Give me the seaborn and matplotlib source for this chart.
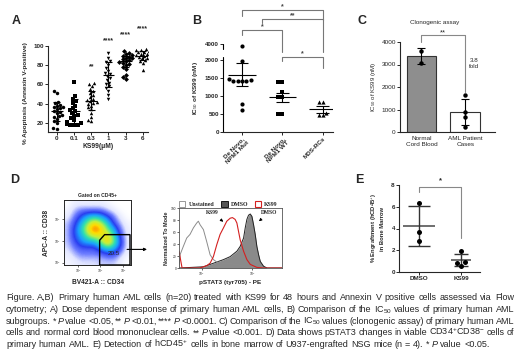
"""KS99 multi-panel figure: apoptosis, IC50, clonogenic assay, pSTAT3 flow, engraftment
"""

import numpy as np
import pandas as pd
import matplotlib
matplotlib.use('Agg')
import matplotlib.pyplot as plt
from matplotlib.colors import LinearSegmentedColormap
from matplotlib.patches import Patch, Polygon
import seaborn as sns

# ---- A: % apoptosis (Annexin V+) per KS99 dose
doses = ['0', '0.1', '0.3', '1', '3', '6']
apop_0 = [53, 51, 42, 41, 39, 38, 37, 36, 35, 34, 32, 31, 30, 28, 27, 26, 24, 22, 20, 15, 14]
apop_01 = [63, 48, 45, 43, 41, 38, 35, 33, 32, 30, 28, 27, 25, 23, 21, 20, 19, 18, 18, 18]
apop_03 = [61, 60, 58, 55, 53, 51, 49, 47, 45, 44, 43, 42, 41, 40, 38, 36, 34, 30, 26, 23, 22]
apop_1 = [93, 88, 84, 83, 80, 77, 74, 72, 71, 69, 67, 65, 62, 60, 58, 56, 53, 49, 45]
apop_3 = [95, 93, 92, 91, 90, 89, 88, 87, 86, 85, 84, 83, 82, 81, 80, 78, 76, 70, 68, 66]
apop_6 = [97, 96, 96, 95, 94, 94, 93, 92, 92, 91, 90, 90, 89, 88, 87, 85, 84, 82, 75]
a_mean = [32, 32, 43, 70, 84, 90]
a_sd = [10, 13, 10, 13, 6, 5]
a_stars = ['', '', '**', '****', '****', '****']
a_star_y = [0, 0, 78, 105, 112, 118]

# ---- B: IC50 of KS99 (nM) per subgroup
b_groups = ['De Novo,\nNPM1 Mut', 'De Novo,\nNPM1 WT', 'MDS-RCs']
b_mut = [3800, 1980, 1480, 1430, 1420, 1420, 1420, 1440, 770, 610]
b_wt = [1380, 1380, 1120, 980, 980, 500, 500]
b_mds = [830, 830, 530, 460, 460]
b_mean = [1590, 970, 630]
b_sem = [320, 125, 90]

# ---- C: clonogenic IC50
c_groups = ['Normal\nCord Blood', 'AML Patient\nCases']
c_bar = [3380, 875]
c_sd = [350, 570]
c_normal = [3615, 3080]
c_aml = [1630, 900, 680, 240]

# ---- D: flow density (CD34 vs CD38, rows top -> bottom) and pSTAT3 histograms
dens = [
    [0, 0.5, 0.5, 0.5, 0.5, 0.5, 0.3, 0, 0, 0],
    [0.3, 1, 1.5, 1.5, 1.5, 1.5, 1, 0.5, 0, 0],
    [0.5, 1.5, 2.5, 3.5, 4, 3.5, 2.5, 1.5, 0.5, 0],
    [1, 2, 3.5, 5, 6.5, 5.5, 4, 2, 1, 0.3],
    [1, 2.5, 4, 6, 8, 7, 5, 3.5, 1.5, 0.5],
    [1, 2.5, 3.5, 5, 6, 6, 6.5, 4.5, 2, 0.5],
    [1, 2, 3, 3.5, 3.5, 5, 7, 5, 2.5, 0.5],
    [0.8, 1.5, 2, 2, 2, 3, 4, 3.5, 2, 0.5],
    [0.5, 1, 1.5, 1.5, 1.5, 1.5, 2, 2, 1, 0.3],
    [0.3, 0.5, 0.8, 0.8, 0.8, 1, 1, 1, 0.5, 0],
]
gate_pct = '20.5'
unst_x = [0, 0.01, 0.042, 0.075, 0.107, 0.14, 0.172, 0.188, 0.205, 0.237, 0.269, 0.302,
          0.334, 0.367, 0.432, 0.497, 0.562, 0.61, 0.643, 0.69]
unst_y = [0, 22, 36, 50, 56, 67, 75, 78, 72, 64, 44, 22, 14, 10, 8, 7, 6, 4, 1, 0]
ks99_x = [0, 0.03, 0.2, 0.237, 0.27, 0.302, 0.334, 0.367, 0.399, 0.432, 0.464, 0.497,
          0.519, 0.545, 0.562, 0.578, 0.594, 0.627, 0.659, 0.692, 0.756, 0.82, 1.0]
ks99_y = [28, 0, 0, 2, 4, 8, 19, 39, 56, 67, 78, 83, 84, 81, 75, 61, 47, 28, 14, 6, 1, 0, 0]
dmso_x = [0, 0.237, 0.302, 0.367, 0.432, 0.497, 0.562, 0.594, 0.627, 0.643, 0.659, 0.675,
          0.692, 0.708, 0.724, 0.74, 0.756, 0.773, 0.789, 0.821, 0.854, 1.0]
dmso_y = [0, 2, 6, 10, 14, 19, 28, 36, 50, 67, 81, 88, 90, 86, 72, 56, 36, 22, 11, 3, 0, 0]

# ---- E: % engraftment hCD45+
e_groups = ['DMSO', 'KS99']
e_dmso = [6.33, 3.67, 2.87]
e_ks99 = [1.89, 0.88, 0.82, 0.58]
e_mean = [4.25, 1.07]
e_sd = [1.82, 0.54]

caption = [
    "Figure. A,B) Primary human AML cells (n=20) treated with KS99 for 48 hours and Annexin V positive cells assessed via Flow",
    "cytometry; A) Dose dependent response of primary human AML cells, B) Comparison of the IC$_{50}$ values of primary human AML",
    "subgroups. * P value <0.05, ** P <0.01, **** P <0.0001.  C) Comparison of the IC$_{50}$ values (clonogenic assay) of primary human AML",
    "cells and normal cord blood mononuclear cells. ** P value <0.001. D) Data shows pSTAT3 changes in viable CD34$^{+}$CD38$^{-}$ cells of",
    "primary human AML. E) Detection of hCD45$^{+}$ cells in bone marrow of U937-engrafted NSG mice (n = 4). * P value <0.05.",
]

sns.set_style('ticks')
plt.rcParams['font.family'] = ['Liberation Sans', 'DejaVu Sans']
plt.rcParams['mathtext.fontset'] = 'custom'
plt.rcParams['mathtext.rm'] = 'Liberation Sans'
plt.rcParams['mathtext.it'] = 'Liberation Sans:italic'
plt.rcParams['mathtext.bf'] = 'Liberation Sans:bold'

W, H = 520, 356
fig = plt.figure(figsize=(W / 100, H / 100), dpi=100)


def place(l, t, r, b):
    return fig.add_axes([l / W, 1 - b / H, (r - l) / W, (b - t) / H])


def prism(ax, fs=4.5, bold=True):
    sns.despine(ax=ax)
    for s in ['left', 'bottom']:
        ax.spines[s].set_linewidth(0.8)
    ax.tick_params(length=2, width=0.7, pad=1, labelsize=fs)
    w = 'bold' if bold else 'normal'
    for t in ax.get_xticklabels() + ax.get_yticklabels():
        t.set_fontweight(w)


def bracket(ax, x0, x1, y, y0, y1, trans, color='#777777'):
    ax.plot([x0, x0, x1, x1], [y0, y, y, y1], color=color, lw=0.8,
            transform=trans, clip_on=False)


# ================= A
axA = place(48, 46, 148, 132)
apop_sets = [apop_0, apop_01, apop_03, apop_1, apop_3, apop_6]
for d, vals, m in zip(doses, apop_sets, ['o', 's', '^', 'v', 'D', '^']):
    sns.swarmplot(x=[d] * len(vals), y=vals, order=doses, marker=m, color='black',
                  size=2.5, ax=axA, warn_thresh=1)
for i, (m, s) in enumerate(zip(a_mean, a_sd)):
    axA.hlines(m, i - 0.34, i + 0.34, color='black', lw=0.8)
    axA.hlines([m - s, m + s], i - 0.2, i + 0.2, color='black', lw=0.8)
    axA.vlines(i, m - s, m + s, color='black', lw=0.8)
    if a_stars[i]:
        axA.text(i, a_star_y[i], a_stars[i], ha='center', va='center', fontsize=5,
                 fontweight='bold', clip_on=False)
axA.set_xlim(-0.52, 5.3)
axA.set_ylim(10.5, 100)
axA.set_yticks([20, 40, 60, 80, 100])
axA.set_xlabel('KS99(μM)', fontsize=4.8, fontweight='bold', labelpad=1.5)
axA.set_ylabel('% Apoptosis (Annexin V-positive)', fontsize=4.6, fontweight='bold')
axA.yaxis.set_label_coords(-0.2, 0.45)
prism(axA)

# ================= B
k = 0.222


def fwd(y):
    y = np.asarray(y, float)
    return np.where(y <= 2000, y, 2000 + (y - 2000) * k)


def inv(y):
    y = np.asarray(y, float)
    return np.where(y <= 2000, y, 2000 + (y - 2000) / k)


axB = place(223, 44, 333, 132)
axB.set_yscale('function', functions=(fwd, inv))
for g, vals, m in zip(b_groups, [b_mut, b_wt, b_mds], ['o', 's', '^']):
    sns.swarmplot(x=[g] * len(vals), y=vals, order=b_groups, marker=m, color='black',
                  size=3.0, ax=axB, warn_thresh=1)
for i, (m, s) in enumerate(zip(b_mean, b_sem)):
    axB.hlines(m, i - 0.34, i + 0.34, color='black', lw=0.8)
    axB.hlines([m - s, m + s], i - 0.16, i + 0.16, color='black', lw=0.8)
    axB.vlines(i, m - s, m + s, color='black', lw=0.8)
axB.set_xlim(-0.47, 2.25)
axB.set_ylim(0, 4000)
axB.set_yticks([0, 500, 1000, 1500, 2000, 4000])
axB.set_yticklabels(['0', '500', '1000', '1500', '2000', '4000'])
axB.set_xticks(range(3))
axB.set_xticklabels(b_groups, rotation=45, ha='right', rotation_mode='anchor')
axB.set_xlabel('')
axB.set_ylabel('IC$_{50}$ of KS99 (nM)', fontsize=4.6, fontweight='bold')
axB.yaxis.set_label_coords(-0.21, 0.5)
prism(axB)
axB.spines['left'].set_visible(False)
ytr = axB.get_yaxis_transform()
axB.plot([0, 0], [0, 2400], color='black', lw=0.8, transform=ytr, clip_on=False)
axB.plot([0, 0], [3340, 4000], color='black', lw=0.8, transform=ytr, clip_on=False)
xtr = axB.get_xaxis_transform()
bracket(axB, 0, 2, 1.386, 1.318, 1.273, xtr)
bracket(axB, 0.5, 2, 1.284, 1.239, 0.909, xtr)
bracket(axB, 0, 1, 1.159, 1.102, 0.909, xtr)
bracket(axB, 1, 2, 0.852, 0.807, 0.727, xtr)
for x, y, s in [(1, 1.42, '*'), (1.26, 1.32, '**'), (0.5, 1.2, '*'), (1.5, 0.89, '*')]:
    axB.text(x, y, s, transform=xtr, ha='center', va='center', fontsize=5,
             fontweight='bold', color='#444444')

# ================= C
axC = place(400, 42, 495, 132)
sns.barplot(x=c_groups, y=c_bar, hue=c_groups, palette=['#8e8e8e', 'white'],
            width=0.68, edgecolor='#333333', linewidth=0.8, errorbar=None,
            legend=False, ax=axC)
axC.errorbar([0, 1], c_bar, yerr=c_sd, fmt='none', ecolor='black', elinewidth=0.8,
             capsize=3, capthick=0.8)
sns.stripplot(x=[c_groups[0]] * 2 + [c_groups[1]] * 4, y=c_normal + c_aml,
              order=c_groups, jitter=False, color='black', size=3.2, ax=axC)
axC.set_xlim(-0.49, 1.68)
axC.set_ylim(0, 4000)
axC.set_yticks([0, 1000, 2000, 3000, 4000])
axC.set_ylabel('IC$_{50}$ of KS99 (nM)', fontsize=4.4)
axC.yaxis.set_label_coords(-0.23, 0.5)
axC.set_xlabel('')
prism(axC, fs=4.6, bold=False)
axC.tick_params(axis='x', length=0, pad=3)
bracket(axC, 0, 1, 4311, 4013, 1790, axC.transData, color='#888888')
axC.text(0.5, 4420, '**', ha='center', va='center', fontsize=5.5, clip_on=False)
axC.text(1.21, 3050, '3.8\nfold', ha='center', va='center', fontsize=4.5,
         linespacing=1.3)
fig.text(435 / W, 1 - 22.5 / H, 'Clonogenic assay', ha='center', va='center', fontsize=4.5)

# ================= D density
axD = place(64, 200, 131, 265)
cmap = LinearSegmentedColormap.from_list(
    'flow', [(0, 'white'), (0.1, '#e2e6ff'), (0.2, '#6a7aff'), (0.3, '#2a3ff0'),
             (0.42, '#1aa0ff'), (0.56, '#30e0b0'), (0.7, '#c0f040'), (0.82, '#ffdc00'),
             (0.92, '#ff8000'), (1.0, '#e82000')])
axD.imshow(np.array(dens), cmap=cmap, vmin=0, vmax=8, extent=[0, 1, 0, 1],
           interpolation='bicubic', aspect='auto')
axD.add_patch(Polygon([(0.532, 0), (0.532, 0.381), (0.606, 0.467), (0.985, 0.467),
                       (0.985, 0)], closed=True, fill=False, ec='black', lw=1.0,
                      clip_on=False))
axD.text(0.74, 0.17, gate_pct, ha='center', va='center', fontsize=4.5)
axD.annotate('', xy=(1.28, 0.24), xytext=(0.9, 0.24), xycoords='axes fraction',
             arrowprops=dict(arrowstyle='-|>', color='black', lw=0.8,
                             mutation_scale=4))
axD.set_xlim(0, 1)
axD.set_ylim(0, 1)
axD.set_xticks([0.21, 0.54, 0.88])
axD.set_xticklabels(['$10^3$', '$10^4$', '$10^5$'])
axD.set_yticks([0.035, 0.37, 0.71])
axD.set_yticklabels(['$10^3$', '$10^4$', '$10^5$'])
axD.tick_params(length=1.5, width=0.5, labelsize=2.3, pad=0.5)
for s in axD.spines.values():
    s.set_linewidth(0.7)
axD.set_title('Gated on CD45+', fontsize=3.6, fontweight='bold', pad=2)
axD.set_xlabel('BV421-A :: CD34', fontsize=4.8, fontweight='bold', labelpad=3)
axD.set_ylabel('APC-A :: CD38', fontsize=4.8, fontweight='bold', labelpad=3)

# ================= D histogram
axH = place(179, 208, 282, 268)
hist = pd.DataFrame({'x': dmso_x, 'y': dmso_y})
axH.fill_between(hist['x'], hist['y'], color='#8a8a8a', lw=0)
sns.lineplot(data=hist, x='x', y='y', sort=False, color='#222222', lw=0.7, ax=axH)
sns.lineplot(x=unst_x, y=unst_y, sort=False, color='#8c8c8c', lw=0.7, ax=axH)
sns.lineplot(x=ks99_x, y=ks99_y, sort=False, color='#d42020', lw=0.8, ax=axH)
axH.set_xlim(0, 1)
axH.set_ylim(0, 100)
axH.set_yticks([0, 20, 40, 60, 80, 100])
axH.set_xticks([0.22, 0.71])
axH.set_xticklabels(['$10^2$', '$10^3$'])
axH.tick_params(length=1.5, width=0.5, labelsize=2.3, pad=0.5)
for s in axH.spines.values():
    s.set_linewidth(0.6)
    s.set_color('#555555')
axH.set_xlabel('pSTAT3 (tyr705) - PE', fontsize=4.6, fontweight='bold', labelpad=1)
axH.set_ylabel('Normalized To Mode', fontsize=4.0, fontweight='bold', labelpad=1.5)
serif = {'family': 'Liberation Serif', 'weight': 'bold', 'size': 4.2}
axH.legend(handles=[Patch(fc='white', ec='#888888', lw=0.6, label='Unstained'),
                    Patch(fc='#555555', ec='black', lw=0.6, label='DMSO'),
                    Patch(fc='white', ec='#d42020', lw=0.8, label='KS99')],
           ncol=3, loc='lower left', bbox_to_anchor=(0.0, 1.02), frameon=False,
           prop=serif, handlelength=1.1, handleheight=1.1, handletextpad=0.5,
           columnspacing=1.2, borderaxespad=0, borderpad=0)
axH.annotate('KS99', xy=(0.45, 74), xytext=(0.32, 93), ha='center', va='center',
             fontfamily='Liberation Serif', fontweight='bold', fontsize=4.0,
             arrowprops=dict(arrowstyle='-|>', color='black', lw=0.6, mutation_scale=4))
axH.annotate('DMSO', xy=(0.755, 75), xytext=(0.88, 93), ha='center', va='center',
             fontfamily='Liberation Serif', fontweight='bold', fontsize=4.0,
             arrowprops=dict(arrowstyle='-|>', color='black', lw=0.6, mutation_scale=4))

# ================= E
axE = place(399, 185, 480, 272)
for g, vals in zip(e_groups, [e_dmso, e_ks99]):
    sns.swarmplot(x=[g] * len(vals), y=vals, order=e_groups, color='black', size=3.6,
                  ax=axE, warn_thresh=1)
for i, (m, s, wm, wc) in enumerate(zip(e_mean, e_sd, [0.38, 0.24], [0.27, 0.17])):
    axE.hlines(m, i - wm, i + wm, color='#555555', lw=1.2)
    axE.hlines([m - s, m + s], i - wc, i + wc, color='#333333', lw=1.0)
    axE.vlines(i, m - s, m + s, color='#333333', lw=1.0)
axE.set_xlim(-0.48, 1.45)
axE.set_ylim(0, 8)
axE.set_yticks([0, 2, 4, 6, 8])
axE.set_xlabel('')
axE.set_ylabel('% Engraftment (hCD45$^{+}$)\nin Bone Marrow', fontsize=4.2,
               fontweight='bold', linespacing=1.2)
axE.yaxis.set_label_coords(-0.17, 0.5)
prism(axE)
bracket(axE, 0, 1, 7.85, 7.4, 3.1, axE.transData, color='#888888')
axE.text(0.5, 8.35, '*', ha='center', va='center', fontsize=5.5, fontweight='bold',
         clip_on=False)

# ================= panel letters
for s, x, y in [('A', 16, 21), ('B', 197, 21), ('C', 362, 21), ('D', 15, 180), ('E', 359, 180)]:
    fig.text(x / W, 1 - y / H, s, ha='center', va='center', fontsize=9, fontweight='bold')

# ================= caption, justified word by word
renderer = fig.canvas.get_renderer()
left, right, fs = 6, 514, 6.5
probe1 = fig.text(0, 0, 'a a', fontsize=fs)
probe2 = fig.text(0, 0, 'aa', fontsize=fs)
space = probe1.get_window_extent(renderer).width - probe2.get_window_extent(renderer).width
probe1.remove()
probe2.remove()
for n, line in enumerate(caption):
    words = line.split()
    y = 1 - (300.5 + n * 11.6) / H
    texts = [fig.text(0, y, w, fontsize=fs, va='baseline',
                      style='italic' if w == 'P' else 'normal') for w in words]
    widths = [t.get_window_extent(renderer).width for t in texts]
    if n < len(caption) - 1:
        gap = max((right - left - sum(widths)) / (len(words) - 1), 0.6 * space)
    else:
        gap = space
    x = left
    for t, w in zip(texts, widths):
        t.set_x(x / W)
        x += w + gap

fig.savefig('out.png', dpi=100, facecolor='white')
